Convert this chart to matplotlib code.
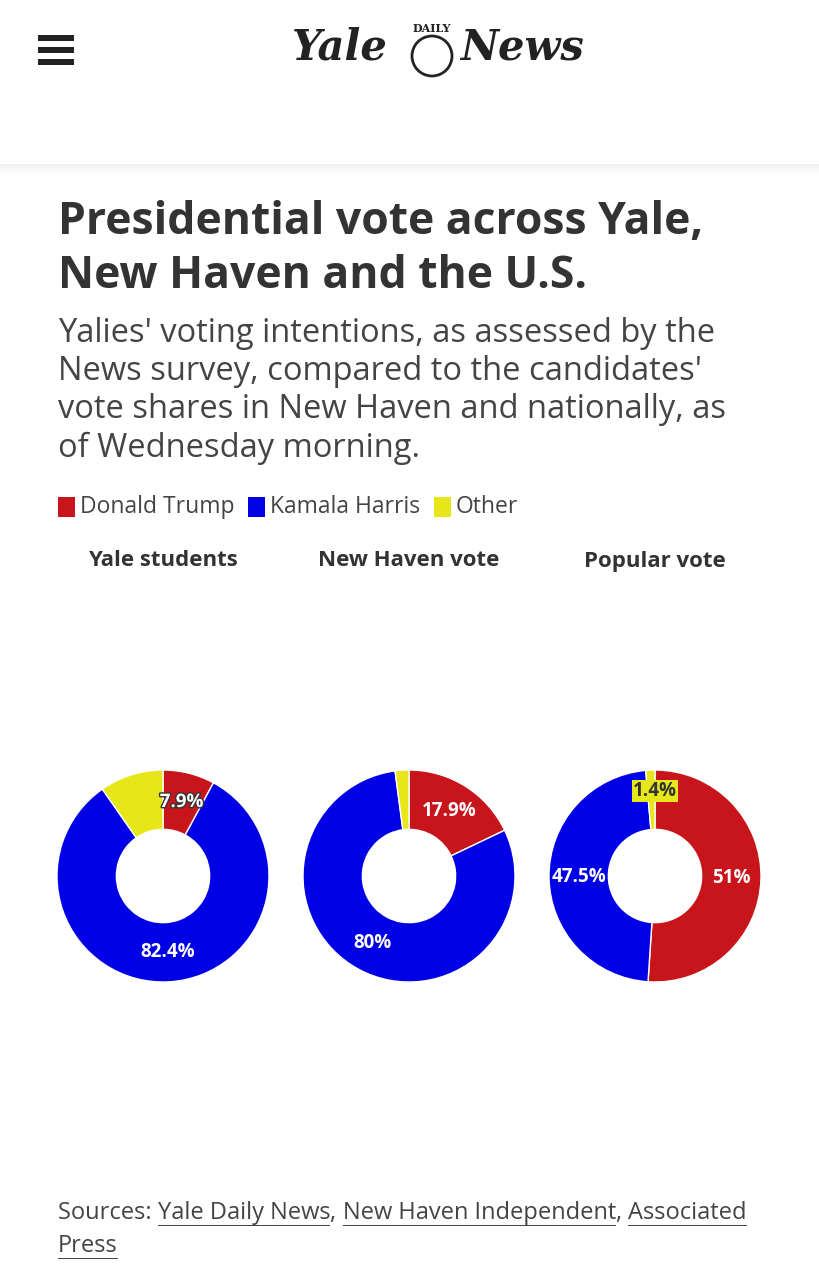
import numpy as np
import matplotlib.pyplot as plt
import matplotlib.patheffects as pe
from matplotlib.patches import Rectangle, Ellipse

W, H = 819, 1280

candidates = ["Donald Trump", "Kamala Harris", "Other"]
colors = ["#c8151b", "#0000e6", "#e6e619"]
panels = ["Yale students", "New Haven vote", "Popular vote"]
yale = [7.9, 82.4, 9.7]
new_haven = [17.9, 80.0, 2.1]
popular = [51.0, 47.5, 1.4]
labels = [["7.9%", "82.4%", ""], ["17.9%", "80%", ""], ["51%", "47.5%", "1.4%"]]

plt.rcParams['font.family'] = ['Open Sans', 'DejaVu Sans']
fig = plt.figure(figsize=(W / 100, H / 100), dpi=100)
fig.patch.set_facecolor("white")


def fy(y):
    return 1 - y / H


def fx(x):
    return x / W


# header
for i in range(12):
    fig.patches.append(Rectangle((0, fy(165 + i)), 1, 1 / H, transform=fig.transFigure,
                                 color="black", alpha=0.05 * (1 - i / 12), lw=0))
for y in (38, 50, 62):
    fig.patches.append(Rectangle((fx(38), fy(y + 3)), fx(36), 6 / H, transform=fig.transFigure,
                                 color="#222222", lw=0))
fig.text(fx(340), fy(48), "Yale", ha="center", va="center", fontsize=30,
         family="DejaVu Serif", fontweight="bold", color="#222222", style="italic")
fig.text(fx(522), fy(48), "News", ha="center", va="center", fontsize=30,
         family="DejaVu Serif", fontweight="bold", color="#222222", style="italic")
fig.text(fx(432), fy(29), "DAILY", ha="center", va="center", fontsize=8,
         family="DejaVu Serif", fontweight="bold", color="#222222")
fig.patches.append(Ellipse((fx(432), fy(56)), 40 / W, 40 / H, transform=fig.transFigure,
                           fill=False, ec="#222222", lw=2))

# titles
fig.text(fx(58), fy(222), "Presidential vote across Yale,", fontsize=32, fontweight="bold",
         color="#333333", va="center")
fig.text(fx(58), fy(276), "New Haven and the U.S.", fontsize=32, fontweight="bold",
         color="#333333", va="center")
sub = ["Yalies' voting intentions, as assessed by the",
       "News survey, compared to the candidates'",
       "vote shares in New Haven and nationally, as",
       "of Wednesday morning."]
for i, line in enumerate(sub):
    fig.text(fx(58), fy(333 + 38.5 * i), line, fontsize=23.5, color="#444444", va="center")

# legend
lx = [58, 248, 434]
for x, name, c in zip(lx, candidates, colors):
    fig.patches.append(Rectangle((fx(x), fy(517)), fx(17), 20 / H, transform=fig.transFigure,
                                 color=c, lw=0))
    fig.text(fx(x + 22), fy(507), name, fontsize=16.5, color="#444444", va="center")

# donuts
centers = [163, 409, 655]
data = [yale, new_haven, popular]
R = 106
for cx, title, vals, labs in zip(centers, panels, data, labels):
    fig.text(fx(cx), fy(561), title, ha="center", va="center", fontsize=16,
             fontweight="bold", color="#333333")
    ax = fig.add_axes([fx(cx - R), fy(876 + R), 2 * R / W, 2 * R / H])
    ax.pie(vals, colors=colors, startangle=90, counterclock=False,
           wedgeprops=dict(width=0.56, edgecolor="white", linewidth=1))
    ax.set_aspect("equal")
    ax.set_xlim(-1, 1)
    ax.set_ylim(-1, 1)
    ang = 90.0
    for v, lab in zip(vals, labs):
        mid = ang - v * 3.6 / 2
        ang -= v * 3.6
        if not lab:
            continue
        r = 0.72
        t = ax.text(r * np.cos(np.radians(mid)), r * np.sin(np.radians(mid)), lab,
                    ha="center", va="center", fontsize=13.5, fontweight="bold", color="white")
        if v < 3:
            t.set_color("#333333")
            t.set_position((0.0, 0.8))
            t.set_bbox(dict(facecolor=colors[2], edgecolor="none", pad=0.5))
        elif v < 10:
            t.set_path_effects([pe.withStroke(linewidth=2, foreground="#333333")])

# sources
renderer = fig.canvas.get_renderer()
parts = [("Sources: ", False), ("Yale Daily News", True), (", ", False),
         ("New Haven Independent", True), (", ", False), ("Associated", True)]
x = 58
for s, ul in parts:
    t = fig.text(fx(x), fy(1213), s, fontsize=17, color="#444444", va="center")
    w = t.get_window_extent(renderer).width
    if ul:
        fig.patches.append(Rectangle((fx(x), fy(1226)), fx(w), 1.5 / H,
                                     transform=fig.transFigure, color="#444444", lw=0))
    x += w
t = fig.text(fx(58), fy(1246), "Press", fontsize=17, color="#444444", va="center")
w = t.get_window_extent(renderer).width
fig.patches.append(Rectangle((fx(58), fy(1259)), fx(w), 1.5 / H,
                             transform=fig.transFigure, color="#444444", lw=0))

fig.savefig("out.png", dpi=100)
